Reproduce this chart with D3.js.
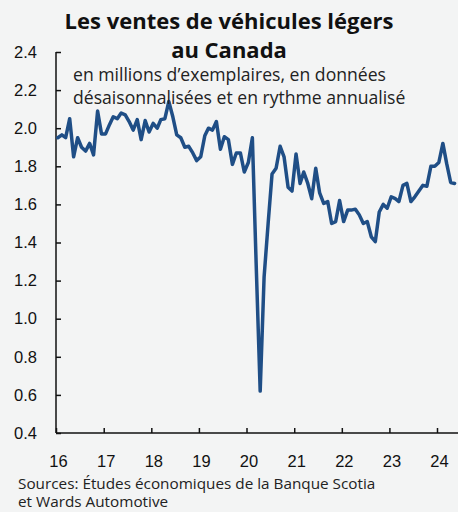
<!DOCTYPE html>
<html>
<head>
<meta charset="utf-8">
<script src="https://cdn.jsdelivr.net/npm/d3@7"></script>
<style>
  html, body { margin: 0; padding: 0; background: #f3f4f4; }
  svg { display: block; font-family: "Open Sans", "Noto Sans", sans-serif; }
</style>
</head>
<body>
<div id="chart"></div>
<script>
// Monthly sales, millions of units (SAAR), Jan 2016 - May 2024
const startYear = 2016;
const sales2016 = [1.95, 1.965, 1.95, 2.05, 1.85, 1.95, 1.90, 1.88, 1.92, 1.86, 2.09, 1.97];
const sales2017 = [1.97, 2.02, 2.06, 2.05, 2.08, 2.07, 2.035, 1.99, 2.045, 1.94, 2.04, 1.98];
const sales2018 = [2.025, 2.0, 2.045, 2.05, 2.14, 2.06, 1.965, 1.95, 1.90, 1.905, 1.87, 1.83];
const sales2019 = [1.85, 1.96, 2.00, 1.99, 2.035, 1.89, 1.955, 1.94, 1.81, 1.87, 1.87, 1.77];
const sales2020 = [1.82, 1.95, 1.29, 0.62, 1.22, 1.50, 1.76, 1.79, 1.905, 1.85, 1.69, 1.67];
const sales2021 = [1.865, 1.71, 1.77, 1.71, 1.63, 1.79, 1.66, 1.605, 1.615, 1.50, 1.51, 1.62];
const sales2022 = [1.51, 1.57, 1.57, 1.575, 1.545, 1.50, 1.51, 1.43, 1.405, 1.56, 1.60, 1.58];
const sales2023 = [1.64, 1.63, 1.615, 1.70, 1.71, 1.615, 1.64, 1.67, 1.70, 1.695, 1.80, 1.80];
const sales2024 = [1.82, 1.92, 1.815, 1.715, 1.71];

const yTicks = [0.4, 0.6, 0.8, 1.0, 1.2, 1.4, 1.6, 1.8, 2.0, 2.2, 2.4];
const xTickYears = [2016, 2017, 2018, 2019, 2020, 2021, 2022, 2023, 2024];

const titleLines = ["Les ventes de véhicules légers", "au Canada"];
const subtitleLines = ["en millions d\u2019exemplaires, en données", "désaisonnalisées et en rythme annualisé"];
const sourceLines = ["Sources: Études économiques de la Banque Scotia", "et Wards Automotive"];

const allYears = [sales2016, sales2017, sales2018, sales2019, sales2020, sales2021, sales2022, sales2023, sales2024];
const data = [];
allYears.forEach((arr, i) => {
    arr.forEach((v, m) => {
        data.push({ date: new Date(startYear + i, m, 15), value: v });
    });
});

const width = 458, height = 512;
const margin = { top: 52, right: 0, bottom: 79, left: 56 };

const svg = d3.select('#chart')
    .append('svg')
    .attr('width', width)
    .attr('height', height);

svg.append('rect')
    .attr('width', width)
    .attr('height', height)
    .attr('fill', '#f3f4f4');

const x = d3.scaleTime()
    .domain([new Date(2016, 0, 1), new Date(2024, 0, 1)])
    .range([margin.left, 437]);

const y = d3.scaleLinear()
    .domain([0.4, 2.4])
    .range([height - margin.bottom, margin.top]);

// Y axis (ticks pointing inward)
const yAxis = svg.append('g')
    .attr('transform', `translate(${margin.left},0)`)
    .call(d3.axisRight(y)
        .tickValues(yTicks)
        .tickSize(5)
        .tickFormat(d3.format('.1f')));
yAxis.select('.domain').remove();
yAxis.selectAll('.tick line').attr('stroke', '#111').attr('stroke-width', 1.5);
yAxis.selectAll('.tick text')
    .attr('x', -19)
    .attr('text-anchor', 'end')
    .attr('fill', '#111')
    .style('font-size', '16.5px');
svg.append('line')
    .attr('x1', margin.left).attr('x2', margin.left)
    .attr('y1', y(2.4)).attr('y2', y(0.4))
    .attr('stroke', '#111').attr('stroke-width', 1.5);

// X axis (ticks pointing up)
const xAxis = svg.append('g')
    .attr('transform', `translate(0,${y(0.4)})`)
    .call(d3.axisTop(x)
        .tickValues(xTickYears.map(yr => new Date(yr, 0, 1)))
        .tickSize(5)
        .tickFormat(d3.timeFormat('%y')));
xAxis.select('.domain').remove();
xAxis.selectAll('.tick line').attr('stroke', '#111').attr('stroke-width', 1.5);
xAxis.selectAll('.tick text')
    .attr('y', 34)
    .attr('dx', 2)
    .attr('fill', '#111')
    .style('font-size', '16.5px');
svg.append('line')
    .attr('x1', margin.left).attr('x2', width)
    .attr('y1', y(0.4)).attr('y2', y(0.4))
    .attr('stroke', '#111').attr('stroke-width', 1.5);

// Line
const line = d3.line()
    .x(d => x(d.date))
    .y(d => y(d.value));

svg.append('path')
    .datum(data)
    .attr('fill', 'none')
    .attr('stroke', '#1f4e86')
    .attr('stroke-width', 3.5)
    .attr('stroke-linejoin', 'round')
    .attr('stroke-linecap', 'round')
    .attr('d', line);

// Title
svg.append('g').selectAll('text')
    .data(titleLines)
    .join('text')
    .attr('x', 229)
    .attr('y', (d, i) => 29 + i * 29)
    .attr('text-anchor', 'middle')
    .attr('fill', '#111')
    .style('font-size', '22px')
    .style('font-weight', 'bold')
    .text(d => d);

// Subtitle
svg.append('g').selectAll('text')
    .data(subtitleLines)
    .join('text')
    .attr('x', 73)
    .attr('y', (d, i) => 81 + i * 23)
    .attr('fill', '#222')
    .style('font-size', '17.6px')
    .text(d => d);

// Sources
svg.append('g').selectAll('text')
    .data(sourceLines)
    .join('text')
    .attr('x', 18)
    .attr('y', (d, i) => 489 + i * 18)
    .attr('fill', '#222')
    .style('font-size', '15.3px')
    .text(d => d);
</script>
</body>
</html>
